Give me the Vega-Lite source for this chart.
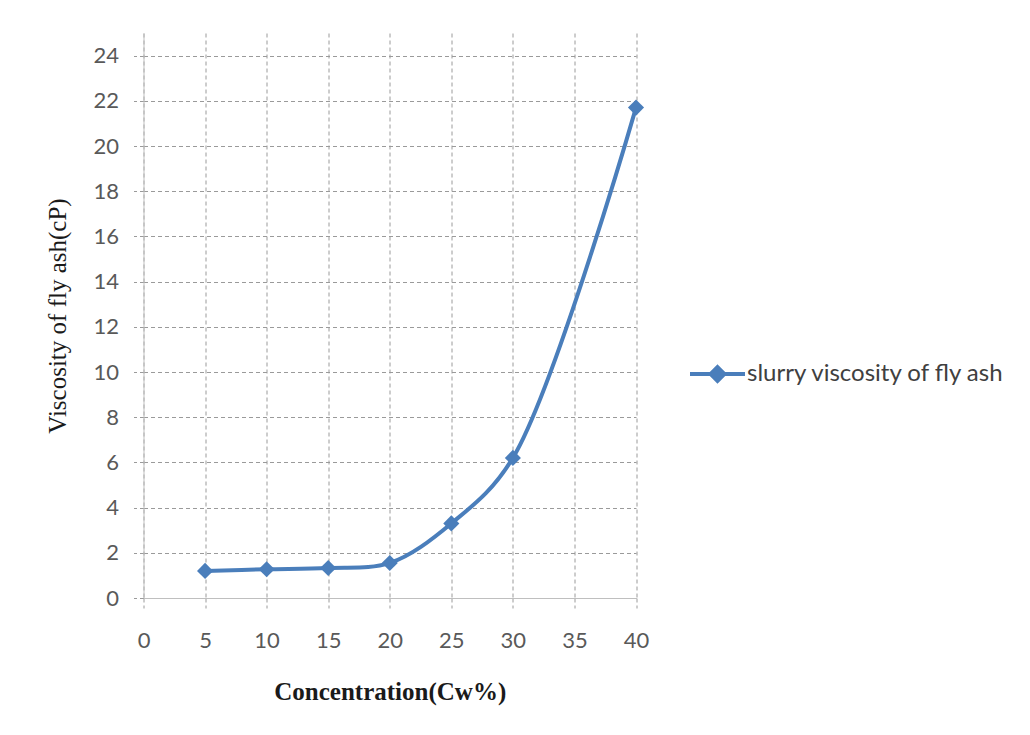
{
  "$schema": "https://vega.github.io/schema/vega-lite/v6.json",
  "width": 492.5,
  "height": 565,
  "autosize": "none",
  "padding": {"left": 143.5, "top": 33, "right": 394, "bottom": 137},
  "background": "#ffffff",
  "data": {
    "values": [
      {"series": "slurry viscosity of fly ash", "cw": 5, "viscosity": 1.2},
      {"series": "slurry viscosity of fly ash", "cw": 10, "viscosity": 1.27},
      {"series": "slurry viscosity of fly ash", "cw": 15, "viscosity": 1.33},
      {"series": "slurry viscosity of fly ash", "cw": 20, "viscosity": 1.55},
      {"series": "slurry viscosity of fly ash", "cw": 25, "viscosity": 3.3},
      {"series": "slurry viscosity of fly ash", "cw": 30, "viscosity": 6.2},
      {"series": "slurry viscosity of fly ash", "cw": 40, "viscosity": 21.7}
    ]
  },
  "encoding": {
    "x": {
      "field": "cw",
      "type": "quantitative",
      "scale": {"domain": [0, 40], "nice": false, "zero": true},
      "axis": {
        "title": "Concentration(Cw%)",
        "values": [0, 5, 10, 15, 20, 25, 30, 35, 40],
        "titleFont": "Liberation Serif",
        "titleFontWeight": "bold",
        "titleFontSize": 25,
        "titleColor": "#1a1a1a",
        "titlePadding": 28,
        "labelFont": "Lato",
        "labelFontSize": 22,
        "labelColor": "#595959",
        "labelPadding": 32,
        "labelFlush": false,
        "labelOverlap": false,
        "labelBaseline": "middle",
        "tickSize": 10,
        "tickColor": "#9a9a9a",
        "tickDash": [4, 3],
        "domainColor": "#bfbfbf",
        "gridColor": "#9a9a9a",
        "gridDash": [4, 3],
        "gridWidth": 1
      }
    },
    "y": {
      "field": "viscosity",
      "type": "quantitative",
      "scale": {"domain": [0, 25], "nice": false},
      "axis": {
        "title": "Viscosity of fly ash(cP)",
        "values": [0, 2, 4, 6, 8, 10, 12, 14, 16, 18, 20, 22, 24],
        "titleFont": "Liberation Serif",
        "titleFontWeight": "normal",
        "titleFontSize": 25,
        "titleColor": "#1a1a1a",
        "titlePadding": 22,
        "labelFont": "Lato",
        "labelFontSize": 22,
        "labelColor": "#595959",
        "labelPadding": 15,
        "labelFlush": false,
        "labelOverlap": false,
        "tickSize": 10,
        "tickColor": "#9a9a9a",
        "tickDash": [4, 3],
        "domainColor": "#bfbfbf",
        "gridColor": "#9a9a9a",
        "gridDash": [4, 3],
        "gridWidth": 1
      }
    }
  },
  "layer": [
    {
      "mark": {"type": "line", "interpolate": "catmull-rom", "strokeWidth": 4},
      "encoding": {
        "color": {
          "field": "series",
          "type": "nominal",
          "scale": {"range": ["#4a7ebb"]},
          "legend": {
            "title": null,
            "orient": "none",
            "legendX": 544.5,
            "legendY": 311.5,
            "padding": 0,
            "symbolType": "M-1,0H1M0,-0.25L0.25,0L0,0.25L-0.25,0Z",
            "symbolSize": 3025,
            "symbolStrokeWidth": 4,
            "symbolFillColor": "#4a7ebb",
            "symbolStrokeColor": "#4a7ebb",
            "labelFont": "Lato",
            "labelFontSize": 24,
            "labelColor": "#404040",
            "labelOffset": 0,
            "labelLimit": 0
          }
        }
      }
    },
    {
      "mark": {"type": "point", "shape": "diamond", "filled": true, "size": 260, "color": "#4a7ebb", "opacity": 1}
    }
  ],
  "config": {
    "view": {"stroke": null}
  }
}
